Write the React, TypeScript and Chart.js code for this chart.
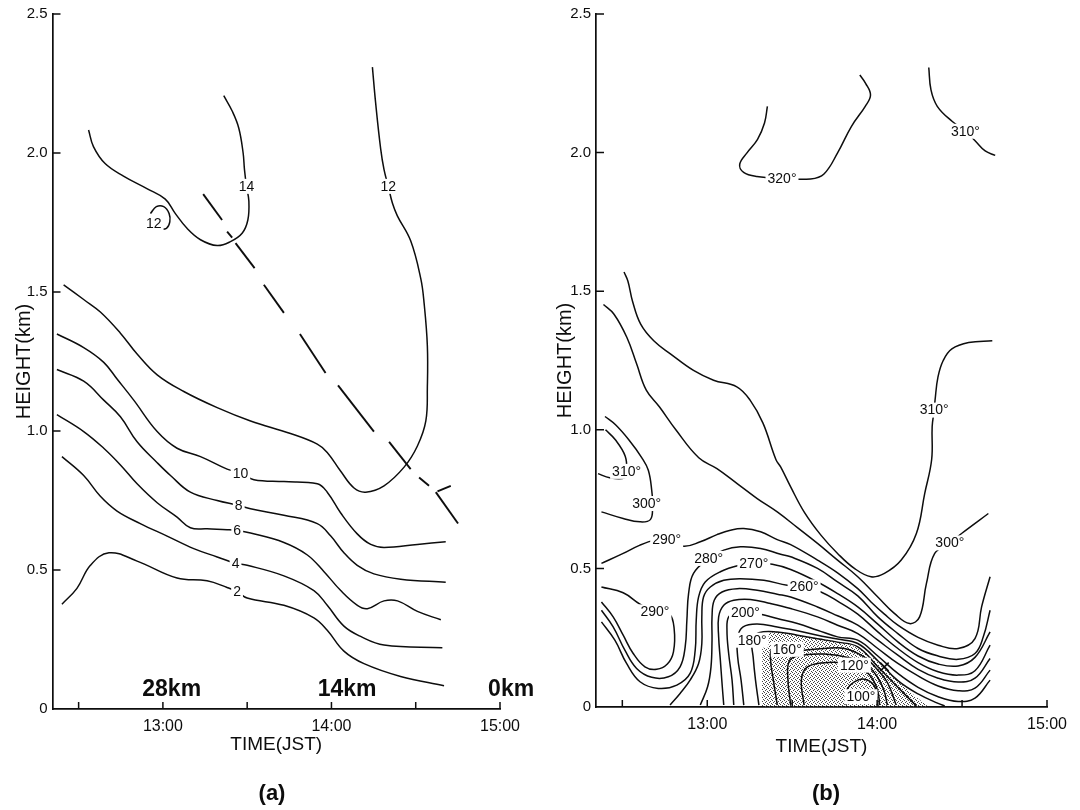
import React, { useEffect, useRef } from "react";
import { Chart, registerables } from "chart.js";

Chart.register(...registerables);

type Pt = [number, number];
type Lbl = { t: string; x: number; y: number };

// ---------- axes ----------
const X_MIN = 12.345;
const X_MAX = 15;
const xTickValues = [12.5, 13, 13.5, 14, 14.5, 15];
const yTickValues = [0, 0.5, 1, 1.5, 2, 2.5];

// ---------- panel (a): contours (time in hours, height in km) ----------
const aC2: Pt[] = [[12.401,0.377],[12.490,0.434],[12.570,0.517],[12.680,0.562],[12.847,0.532],[13.084,0.471],[13.262,0.461],[13.381,0.437],[13.440,0.422],[13.500,0.399],[13.718,0.373],[13.896,0.328],[13.975,0.283],[14.074,0.208],[14.193,0.163],[14.410,0.117],[14.668,0.084]];
const aC4: Pt[] = [[12.401,0.908],[12.530,0.840],[12.629,0.765],[12.728,0.712],[12.866,0.667],[13.025,0.622],[13.183,0.577],[13.322,0.547],[13.431,0.524],[13.500,0.517],[13.718,0.479],[13.896,0.426],[13.975,0.373],[14.074,0.298],[14.173,0.261],[14.312,0.230],[14.658,0.220]];
const aC6: Pt[] = [[12.371,1.059],[12.530,0.998],[12.649,0.938],[12.748,0.878],[12.847,0.810],[12.966,0.742],[13.084,0.690],[13.163,0.652],[13.262,0.648],[13.381,0.645],[13.441,0.642],[13.520,0.633],[13.718,0.599],[13.857,0.554],[13.956,0.494],[14.055,0.426],[14.154,0.373],[14.213,0.361],[14.312,0.389],[14.392,0.389],[14.510,0.351],[14.649,0.321]];
const aC8: Pt[] = [[12.371,1.221],[12.530,1.179],[12.649,1.111],[12.748,1.051],[12.847,0.961],[12.966,0.886],[13.045,0.840],[13.163,0.780],[13.322,0.750],[13.450,0.732],[13.520,0.720],[13.718,0.697],[13.916,0.667],[13.996,0.622],[14.074,0.562],[14.153,0.517],[14.252,0.486],[14.411,0.467],[14.678,0.456]];
const aC10: Pt[] = [[12.371,1.349],[12.530,1.300],[12.649,1.247],[12.728,1.187],[12.827,1.111],[12.966,0.998],[13.084,0.938],[13.223,0.908],[13.381,0.863],[13.460,0.848],[13.540,0.825],[13.718,0.818],[13.916,0.810],[13.975,0.780],[14.055,0.705],[14.153,0.630],[14.233,0.592],[14.312,0.581],[14.510,0.592],[14.678,0.602]];
const aC12: Pt[] = [[12.411,1.526],[12.530,1.473],[12.629,1.428],[12.748,1.352],[12.847,1.277],[12.966,1.202],[13.124,1.142],[13.322,1.084],[13.520,1.036],[13.757,0.991],[13.916,0.953],[13.975,0.923],[14.055,0.855],[14.134,0.795],[14.203,0.780],[14.312,0.803],[14.431,0.870],[14.510,0.946],[14.560,1.036],[14.569,1.157],[14.569,1.307],[14.550,1.458],[14.530,1.548],[14.470,1.684],[14.391,1.774],[14.362,1.819],[14.337,1.880],[14.312,1.940],[14.292,2.015],[14.262,2.181],[14.243,2.309]];
const aC14: Pt[] = [[12.559,2.083],[12.588,2.023],[12.657,1.962],[12.766,1.917],[12.905,1.872],[13.014,1.834],[13.074,1.782],[13.143,1.729],[13.223,1.688],[13.322,1.667],[13.401,1.681],[13.470,1.711],[13.504,1.759],[13.510,1.827],[13.496,1.880],[13.484,1.940],[13.476,2.000],[13.450,2.090],[13.411,2.151],[13.361,2.206]];
const aLoop12: Pt[] = [[12.926,1.782],[12.961,1.807],[13.005,1.807],[13.037,1.782],[13.041,1.752],[13.021,1.729],[12.975,1.726]];
const aDashSegments: Pt[][] = [
  [[13.239,1.852],[13.351,1.759]],
  [[13.381,1.717],[13.411,1.696]],
  [[13.431,1.676],[13.544,1.586]],
  [[13.599,1.526],[13.718,1.425]],
  [[13.813,1.349],[13.965,1.209]],
  [[14.039,1.164],[14.252,0.998]],
  [[14.342,0.961],[14.470,0.863]],
  [[14.520,0.833],[14.579,0.803]],
  [[14.619,0.780],[14.751,0.667]],
  [[14.629,0.783],[14.708,0.803]],
];
const aLabels: Lbl[] = [
  { t: "2", x: 13.440, y: 0.422 },
  { t: "4", x: 13.431, y: 0.524 },
  { t: "6", x: 13.441, y: 0.642 },
  { t: "8", x: 13.450, y: 0.732 },
  { t: "10", x: 13.460, y: 0.848 },
  { t: "12", x: 14.337, y: 1.880 },
  { t: "14", x: 13.496, y: 1.880 },
  { t: "12", x: 12.946, y: 1.747 },
];
const aDistances: Lbl[] = [
  { t: "28km", x: 13.052, y: 0.068 },
  { t: "14km", x: 14.093, y: 0.068 },
  { t: "0km", x: 15.066, y: 0.068 },
];

// ---------- panel (b): wind-direction contours ----------
const bC320: Pt[] = [[13.354,2.167],[13.337,2.107],[13.296,2.048],[13.235,2.0],[13.191,1.958],[13.214,1.929],[13.292,1.914],[13.440,1.907],[13.608,1.905],[13.687,1.923],[13.768,2.0],[13.849,2.095],[13.930,2.167],[13.961,2.208],[13.932,2.25],[13.898,2.280]];
const bC310top: Pt[] = [[14.304,2.307],[14.317,2.226],[14.354,2.167],[14.441,2.113],[14.520,2.077],[14.578,2.042],[14.636,2.006],[14.695,1.990]];
const bC310: Pt[] = [[12.510,1.569],[12.533,1.536],[12.560,1.464],[12.608,1.381],[12.685,1.321],[12.783,1.274],[12.919,1.214],[13.037,1.179],[13.174,1.155],[13.252,1.107],[13.328,1.024],[13.404,0.893],[13.432,0.866],[13.491,0.794],[13.570,0.704],[13.669,0.620],[13.767,0.554],[13.866,0.500],[13.964,0.470],[14.043,0.482],[14.142,0.530],[14.231,0.626],[14.280,0.770],[14.321,0.893],[14.324,1.012],[14.336,1.071],[14.341,1.107],[14.358,1.190],[14.389,1.250],[14.440,1.292],[14.539,1.315],[14.678,1.321]];
const bC310left: Pt[] = [[12.401,1.0],[12.459,0.964],[12.517,0.905],[12.525,0.850],[12.515,0.827],[12.426,0.827],[12.357,0.842]];
const bC300: Pt[] = [[12.389,1.452],[12.451,1.417],[12.527,1.333],[12.584,1.238],[12.641,1.143],[12.718,1.083],[12.815,1.0],[12.950,0.899],[13.057,0.860],[13.176,0.806],[13.294,0.752],[13.412,0.704],[13.531,0.647],[13.649,0.590],[13.767,0.530],[13.886,0.470],[14.004,0.397],[14.103,0.337],[14.191,0.301],[14.250,0.325],[14.290,0.445],[14.339,0.554],[14.428,0.592],[14.497,0.626],[14.655,0.698]];
const bC300left: Pt[] = [[12.398,1.048],[12.460,1.018],[12.538,0.964],[12.615,0.899],[12.653,0.854],[12.673,0.782],[12.678,0.722],[12.665,0.676],[12.604,0.668],[12.505,0.680],[12.377,0.704]];
const bC290top: Pt[] = [[12.377,0.518],[12.505,0.554],[12.604,0.584],[12.692,0.602],[12.761,0.604],[12.860,0.580],[12.959,0.596],[13.057,0.622],[13.136,0.638],[13.215,0.644],[13.314,0.632],[13.412,0.604],[13.491,0.586],[13.649,0.530],[13.767,0.484],[13.886,0.427],[13.964,0.379],[14.043,0.335],[14.122,0.295],[14.241,0.251],[14.359,0.223],[14.477,0.211],[14.576,0.247],[14.615,0.361],[14.665,0.470]];
const bC290low: Pt[] = [[12.377,0.433],[12.505,0.412],[12.604,0.371],[12.692,0.343],[12.777,0.335],[12.805,0.283],[12.801,0.199],[12.765,0.155],[12.702,0.136],[12.633,0.145],[12.564,0.193],[12.505,0.259],[12.446,0.325],[12.377,0.379]];
const bC280: Pt[] = [[12.377,0.349],[12.446,0.289],[12.515,0.205],[12.584,0.139],[12.673,0.107],[12.771,0.109],[12.840,0.145],[12.870,0.217],[12.880,0.313],[12.890,0.409],[12.919,0.482],[13.008,0.536],[13.097,0.566],[13.195,0.578],[13.314,0.572],[13.432,0.551],[13.491,0.542],[13.649,0.500],[13.767,0.451],[13.886,0.401],[14.004,0.325],[14.122,0.265],[14.241,0.211],[14.359,0.184],[14.477,0.172],[14.576,0.193],[14.625,0.253],[14.665,0.349]];
const bC270: Pt[] = [[12.377,0.307],[12.456,0.241],[12.525,0.157],[12.604,0.091],[12.712,0.067],[12.821,0.079],[12.899,0.121],[12.929,0.205],[12.935,0.313],[12.949,0.397],[12.988,0.451],[13.077,0.488],[13.195,0.512],[13.274,0.518],[13.383,0.515],[13.491,0.496],[13.649,0.451],[13.767,0.409],[13.886,0.361],[14.004,0.299],[14.122,0.235],[14.241,0.184],[14.359,0.155],[14.477,0.148],[14.576,0.179],[14.665,0.271]];
const bC260: Pt[] = [[12.781,0.007],[12.840,0.049],[12.899,0.097],[12.949,0.157],[12.968,0.229],[12.968,0.325],[12.978,0.397],[13.018,0.433],[13.097,0.457],[13.195,0.463],[13.333,0.457],[13.471,0.439],[13.570,0.433],[13.669,0.415],[13.767,0.382],[13.886,0.335],[14.004,0.271],[14.122,0.211],[14.241,0.160],[14.359,0.127],[14.477,0.115],[14.576,0.131],[14.665,0.223]];
const bC240: Pt[] = [[12.959,0.007],[13.002,0.073],[13.022,0.145],[13.028,0.241],[13.028,0.325],[13.041,0.385],[13.087,0.415],[13.176,0.427],[13.294,0.421],[13.412,0.407],[13.491,0.397],[13.649,0.361],[13.767,0.329],[13.886,0.295],[14.004,0.241],[14.122,0.187],[14.241,0.136],[14.359,0.104],[14.477,0.090],[14.576,0.104],[14.665,0.175]];
const bC220: Pt[] = [[13.097,0.007],[13.087,0.085],[13.077,0.169],[13.067,0.253],[13.067,0.325],[13.097,0.367],[13.156,0.385],[13.254,0.388],[13.373,0.373],[13.491,0.355],[13.649,0.325],[13.767,0.295],[13.886,0.265],[14.004,0.211],[14.122,0.157],[14.241,0.112],[14.359,0.076],[14.477,0.059],[14.576,0.068],[14.665,0.133]];
const bC200: Pt[] = [[13.156,0.007],[13.146,0.097],[13.126,0.193],[13.116,0.277],[13.126,0.325],[13.176,0.340],[13.225,0.340],[13.314,0.335],[13.412,0.319],[13.531,0.301],[13.649,0.277],[13.767,0.253],[13.886,0.241],[14.004,0.184],[14.122,0.121],[14.241,0.071],[14.359,0.037],[14.477,0.020],[14.576,0.032],[14.665,0.097]];
const bC190: Pt[] = [[13.215,0.007],[13.199,0.097],[13.179,0.181],[13.179,0.253],[13.211,0.289],[13.294,0.299],[13.412,0.289],[13.531,0.275],[13.649,0.259],[13.767,0.245],[13.886,0.229],[14.004,0.167],[14.122,0.095],[14.241,0.047],[14.359,0.013],[14.398,0.004]];
const bC180: Pt[] = [[13.304,0.007],[13.284,0.097],[13.270,0.181],[13.264,0.241],[13.304,0.268],[13.412,0.271],[13.531,0.259],[13.649,0.246],[13.767,0.234],[13.886,0.217],[14.004,0.145],[14.122,0.071],[14.231,0.004]];
const bC160: Pt[] = [[13.412,0.007],[13.389,0.097],[13.373,0.169],[13.383,0.211],[13.471,0.208],[13.570,0.205],[13.688,0.211],[13.807,0.211],[13.925,0.180],[14.004,0.133],[14.063,0.085],[14.112,0.007]];
const bC140: Pt[] = [[13.491,0.007],[13.475,0.097],[13.481,0.163],[13.531,0.184],[13.688,0.191],[13.846,0.176],[13.940,0.150],[14.000,0.110],[14.040,0.060],[14.060,0.007]];
const bC120: Pt[] = [[13.570,0.007],[13.554,0.097],[13.586,0.143],[13.688,0.160],[13.807,0.160],[13.866,0.151],[13.930,0.130],[13.975,0.100],[14.005,0.055],[14.015,0.007]];
const bC100: Pt[] = [[13.817,0.007],[13.822,0.061],[13.866,0.091],[13.925,0.100],[13.980,0.079],[14.000,0.037],[14.004,0.007]];
const bShade: Pt[] = [[13.323,0],[13.314,0.097],[13.310,0.193],[13.333,0.259],[13.412,0.270],[13.531,0.258],[13.688,0.244],[13.846,0.223],[13.964,0.184],[14.063,0.127],[14.162,0.071],[14.241,0.031],[14.304,0]];
const bMarks: Pt[] = [[14.043, 0.145]];
const bLabels: Lbl[] = [
  { t: "320°", x: 13.440, y: 1.907 },
  { t: "310°", x: 14.520, y: 2.077 },
  { t: "310°", x: 14.336, y: 1.071 },
  { t: "310°", x: 12.525, y: 0.850 },
  { t: "300°", x: 12.643, y: 0.734 },
  { t: "300°", x: 14.428, y: 0.592 },
  { t: "290°", x: 12.761, y: 0.604 },
  { t: "290°", x: 12.692, y: 0.343 },
  { t: "280°", x: 13.008, y: 0.536 },
  { t: "270°", x: 13.274, y: 0.518 },
  { t: "260°", x: 13.570, y: 0.433 },
  { t: "200°", x: 13.225, y: 0.340 },
  { t: "180°", x: 13.264, y: 0.241 },
  { t: "160°", x: 13.471, y: 0.208 },
  { t: "120°", x: 13.866, y: 0.151 },
  { t: "100°", x: 13.905, y: 0.037 },
];

const FONT = '"Liberation Sans", Arial, Helvetica, sans-serif';
const INK = "#0d0d0d";

type PanelSpec = {
  lines: Pt[][];
  dashes: Pt[][];
  labels: Lbl[];
  bigTexts: Lbl[];
  shade?: Pt[];
  marks?: Pt[];
  letter: string;
  letterX: number;
  yWidth: number;
  padRight: number;
  padTop: number;
  xHeight: number;
  xTitlePad: number;
  yTitlePad: number;
};

function overlayPlugin(p: PanelSpec) {
  return {
    id: "overlay",
    afterDatasetsDraw(chart: any) {
      const { ctx, scales } = chart;
      const x = scales.x, y = scales.y;
      ctx.save();
      ctx.textAlign = "center";
      ctx.textBaseline = "middle";
      ctx.font = `14px ${FONT}`;
      for (const l of p.labels) {
        const px = x.getPixelForValue(l.x);
        const py = y.getPixelForValue(l.y);
        const w = ctx.measureText(l.t).width;
        ctx.fillStyle = "#fff";
        ctx.fillRect(px - w / 2 - 2, py - 7.5, w + 4, 15);
        ctx.fillStyle = INK;
        ctx.fillText(l.t, px, py + 0.5);
      }
      ctx.font = `bold 23px ${FONT}`;
      for (const l of p.bigTexts) {
        ctx.fillStyle = INK;
        ctx.fillText(l.t, x.getPixelForValue(l.x), y.getPixelForValue(l.y));
      }
      ctx.restore();
    },
    afterDraw(chart: any) {
      const { ctx, chartArea, scales } = chart;
      const x = scales.x, y = scales.y;
      ctx.save();
      ctx.strokeStyle = INK;
      ctx.lineWidth = 1.5;
      ctx.beginPath();
      for (const v of xTickValues) {
        const px = x.getPixelForValue(v);
        ctx.moveTo(px, chartArea.bottom);
        ctx.lineTo(px, chartArea.bottom - 7);
      }
      for (const v of yTickValues) {
        if (v === 0) continue;
        const py = y.getPixelForValue(v);
        ctx.moveTo(chartArea.left, py);
        ctx.lineTo(chartArea.left + 8, py);
      }
      ctx.stroke();
      ctx.fillStyle = INK;
      ctx.font = `bold 22px ${FONT}`;
      ctx.textAlign = "center";
      ctx.textBaseline = "middle";
      ctx.fillText(p.letter, p.letterX, 794);
      ctx.restore();
    },
  };
}

function makeStipple(): CanvasPattern | string {
  const c = document.createElement("canvas");
  c.width = 4;
  c.height = 4;
  const g = c.getContext("2d");
  if (!g) return "rgba(0,0,0,0.2)";
  g.fillStyle = "#444";
  g.fillRect(0, 0, 1, 1);
  g.fillRect(2, 1, 1, 1);
  g.fillRect(1, 2, 1, 1);
  g.fillRect(3, 3, 1, 1);
  const pat = g.createPattern(c, "repeat");
  return pat || "rgba(0,0,0,0.2)";
}

function makeConfig(p: PanelSpec): any {
  const datasets: any[] = [];
  const toXY = (pts: Pt[]) => pts.map(([x, y]) => ({ x, y }));
  for (const pts of p.lines) {
    datasets.push({
      data: toXY(pts),
      borderColor: INK,
      borderWidth: 1.5,
      pointRadius: 0,
      tension: 0.4,
      fill: false,
      order: 0,
    });
  }
  for (const pts of p.dashes) {
    datasets.push({
      data: toXY(pts),
      borderColor: INK,
      borderWidth: 1.9,
      pointRadius: 0,
      tension: 0,
      fill: false,
      order: 0,
    });
  }
  if (p.marks) {
    datasets.push({
      data: toXY(p.marks),
      showLine: false,
      pointStyle: "crossRot",
      pointRadius: 6,
      borderColor: INK,
      borderWidth: 1.6,
      order: 0,
    });
  }
  if (p.shade) {
    datasets.push({
      data: toXY(p.shade),
      borderColor: "rgba(0,0,0,0)",
      borderWidth: 0,
      backgroundColor: makeStipple(),
      fill: "origin",
      pointRadius: 0,
      tension: 0.3,
      order: 10,
    });
  }
  return {
    type: "line",
    data: { datasets },
    options: {
      animation: false,
      responsive: false,
      devicePixelRatio: 1,
      events: [],
      layout: { padding: { left: 0, top: p.padTop, right: p.padRight, bottom: 0 } },
      plugins: { legend: { display: false }, tooltip: { enabled: false }, title: { display: false } },
      scales: {
        x: {
          type: "linear",
          min: X_MIN,
          max: X_MAX,
          afterBuildTicks: (s: any) => {
            s.ticks = xTickValues.map((v) => ({ value: v }));
          },
          afterFit: (s: any) => {
            s.height = p.xHeight;
          },
          grid: { display: false, drawTicks: false },
          border: { display: true, color: INK, width: 1.7 },
          ticks: {
            autoSkip: false,
            maxRotation: 0,
            padding: 8,
            color: INK,
            font: { family: FONT, size: 16 },
            callback: (v: any) => (Number.isInteger(v) ? `${v}:00` : ""),
          },
          title: {
            display: true,
            text: "TIME(JST)",
            color: INK,
            font: { family: FONT, size: 19 },
            padding: { top: 0, bottom: p.xTitlePad },
          },
        },
        y: {
          type: "linear",
          min: 0,
          max: 2.5,
          afterBuildTicks: (s: any) => {
            s.ticks = yTickValues.map((v) => ({ value: v }));
          },
          afterFit: (s: any) => {
            s.width = p.yWidth;
          },
          grid: { display: false, drawTicks: false },
          border: { display: true, color: INK, width: 1.7 },
          ticks: {
            padding: 5,
            color: INK,
            font: { family: FONT, size: 15 },
            callback: (v: any) => (v === 0 ? "0" : Number(v).toFixed(1)),
          },
          title: {
            display: true,
            text: "HEIGHT(km)",
            color: INK,
            font: { family: FONT, size: 20 },
            padding: { top: p.yTitlePad, bottom: 0 },
          },
        },
      },
    },
    plugins: [overlayPlugin(p)],
  };
}

const panelA: PanelSpec = {
  lines: [aC2, aC4, aC6, aC8, aC10, aC12, aC14, aLoop12],
  dashes: aDashSegments,
  labels: aLabels,
  bigTexts: aDistances,
  letter: "(a)",
  letterX: 272,
  yWidth: 52.5,
  padRight: 40,
  padTop: 14,
  xHeight: 101,
  xTitlePad: 54,
  yTitlePad: 12,
};

const panelB: PanelSpec = {
  lines: [
    bC320, bC310top, bC310, bC310left, bC300, bC300left, bC290top, bC290low,
    bC280, bC270, bC260, bC240, bC220, bC200, bC190, bC180, bC160, bC140, bC120, bC100,
  ],
  dashes: [],
  labels: bLabels,
  bigTexts: [],
  shade: bShade,
  marks: bMarks,
  letter: "(b)",
  letterX: 286,
  yWidth: 56,
  padRight: 33,
  padTop: 13,
  xHeight: 103,
  xTitlePad: 52,
  yTitlePad: 13,
};

export default function App() {
  const refA = useRef<HTMLCanvasElement | null>(null);
  const refB = useRef<HTMLCanvasElement | null>(null);

  useEffect(() => {
    const charts: Chart[] = [];
    if (refA.current) charts.push(new Chart(refA.current, makeConfig(panelA)));
    if (refB.current) charts.push(new Chart(refB.current, makeConfig(panelB)));
    return () => charts.forEach((c) => c.destroy());
  }, []);

  const canvasStyle = (left: number): React.CSSProperties => ({
    position: "absolute",
    left,
    top: 0,
    width: 540,
    height: 810,
  });

  return (
    <div style={{ position: "absolute", left: 0, top: 0, width: 1080, height: 810, background: "#fff" }}>
      <canvas ref={refA} width={540} height={810} style={canvasStyle(0)} />
      <canvas ref={refB} width={540} height={810} style={canvasStyle(540)} />
    </div>
  );
}
